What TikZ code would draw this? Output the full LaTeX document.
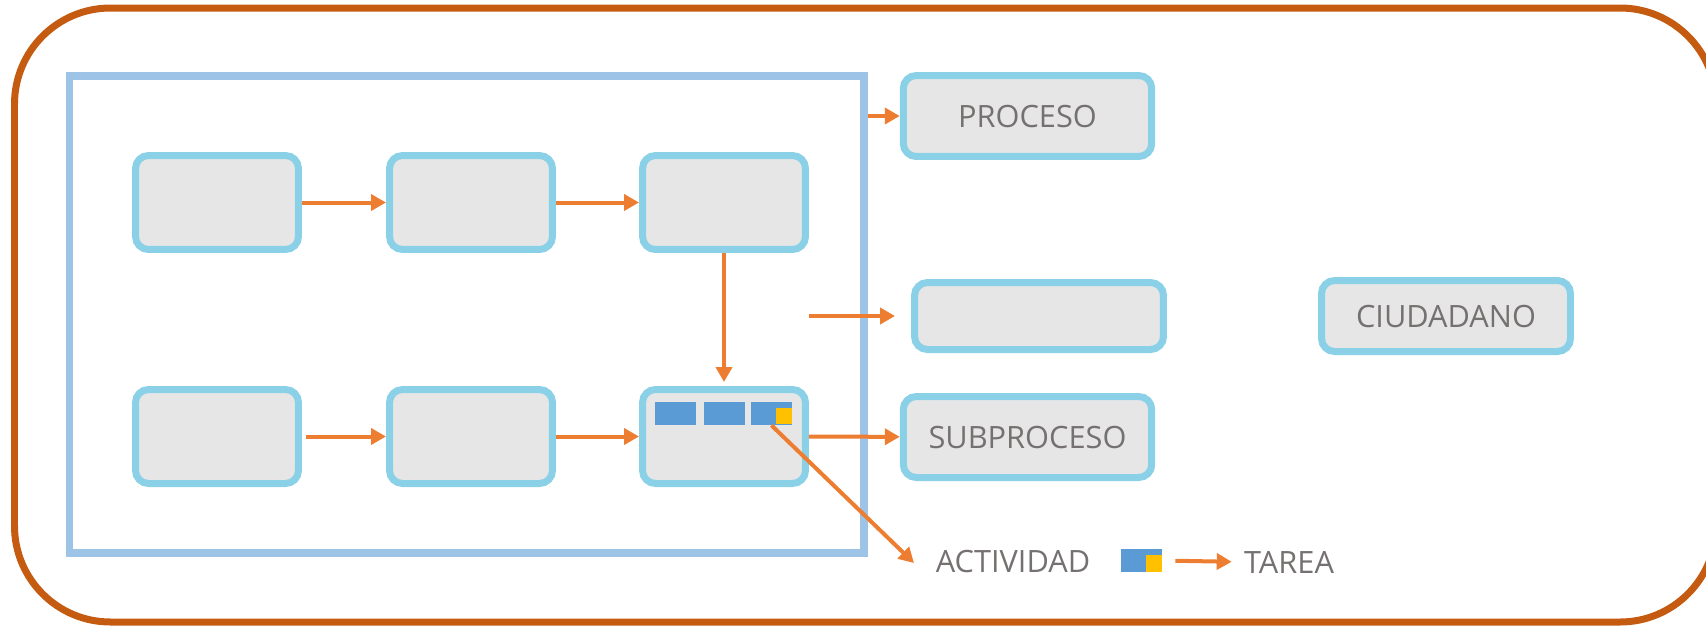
\documentclass[tikz,border=0pt]{standalone}
\usepackage{fontspec}
\setmainfont{Open Sans}
\usepackage{tikz}
\usetikzlibrary{shapes.geometric, arrows.meta}
\definecolor{naranja}{HTML}{ED7D31}
\definecolor{marron}{HTML}{C55A11}
\definecolor{azulmarco}{HTML}{9DC3E6}
\definecolor{azulcaja}{HTML}{8AD0E6}
\definecolor{fondocaja}{HTML}{E6E6E6}
\definecolor{azultarea}{HTML}{5B9BD5}
\definecolor{amarillo}{HTML}{FFC000}
\definecolor{gristexto}{HTML}{767171}
\tikzstyle{caja} = [rectangle, draw=azulcaja, fill=fondocaja, line width=0.14cm,
    rounded corners=0.26cm, minimum width=3.26cm, minimum height=1.88cm, text=gristexto]
\tikzstyle{cajalarga} = [caja, minimum width=4.97cm, minimum height=1.62cm]
\tikzstyle{marco} = [rectangle, draw=azulmarco, line width=0.15cm,
    minimum width=15.89cm, minimum height=9.54cm]
\tikzstyle{linea} = [draw=naranja, line width=0.08cm, -{Triangle[length=0.3cm, width=0.32cm]}]
\tikzstyle{tarea} = [rectangle, fill=azultarea, inner sep=0pt,
    minimum width=0.82cm, minimum height=0.46cm]
\tikzstyle{subtarea} = [rectangle, fill=amarillo, inner sep=0pt, minimum size=0.32cm]
\tikzstyle{etiqueta} = [inner sep=0pt, text=gristexto]

\begin{document}
\begin{tikzpicture}[x=0.02cm, y=-0.02cm, font=\fontsize{17.5}{21}\selectfont]
                \useasboundingbox (0,0) rectangle (1706,626);
                \clip (0,0) rectangle (1706,626);
                % marco exterior
                \draw [marron, line width=0.14cm, rounded corners=1.92cm] (14.5,8) rectangle (1716,622);
                \node [marco] at (466.75,314.5) (marco) {};
                % actividades
                \node [caja] at (217,202.5) (a1) {};
                \node [caja] at (471,202.5) (a2) {};
                \node [caja] at (724,202.5) (a3) {};
                \node [caja] at (217,436.5) (b1) {};
                \node [caja] at (471,436.5) (b2) {};
                \node [caja] at (724,436.5) (b3) {};
                \node [tarea] at (675.5,413.5) (t1) {};
                \node [tarea] at (724.5,413.5) (t2) {};
                \node [tarea] at (771.5,413.5) (t3) {};
                \node [subtarea] at (784,416) (y1) {};
                % columna derecha
                \node [cajalarga] at (1027.5,116) (proceso) {PROCESO};
                \node [cajalarga, minimum width=4.98cm, minimum height=1.34cm] at (1039,316) (medio) {};
                \node [cajalarga] at (1027.5,437) (subproceso) {SUBPROCESO};
                \node [cajalarga, minimum width=4.98cm, minimum height=1.42cm] at (1446,316) (ciudadano) {CIUDADANO};
                % leyenda
                \node [etiqueta] at (1013,562) (actividad) {ACTIVIDAD};
                \node [tarea] at (1141.5,560.5) (leyenda) {};
                \node [subtarea, minimum height=0.34cm] at (1154,563.5) (y2) {};
                \node [etiqueta] at (1289,562) (tarea) {TAREA};
                \coordinate (punta) at (914,563);
                % flechas
                \path [linea] (a1) -- (a2);
                \path [linea] (a2) -- (a3);
                \path [linea, shorten >=0.08cm] (a3) -- (b3);
                \path [linea, shorten <=0.08cm] (b1) -- (b2);
                \path [linea] (b2) -- (b3);
                \path [linea] (b3) -- (subproceso);
                \path [linea] (proceso.west -| marco.east) -- (proceso.west);
                \path [linea, shorten >=0.32cm] (a3.east |- medio.west) -- (medio.west);
                \path [linea] (t3.south) -- (punta);
                \path [linea, shorten <=0.26cm, shorten >=0.24cm] (leyenda.east) -- (tarea.west);
            \end{tikzpicture}
\end{document}
